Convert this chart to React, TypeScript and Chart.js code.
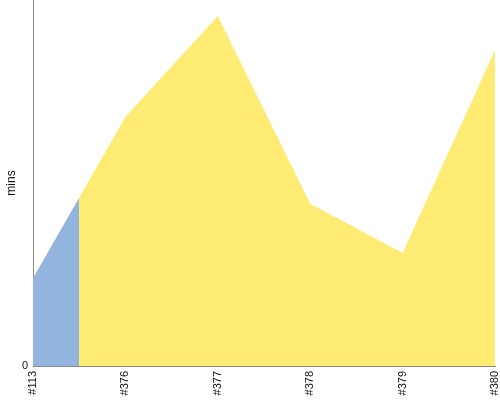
import React, { useEffect, useRef } from "react";
import { Chart, registerables } from "chart.js";

Chart.register(...registerables);

const builds = ["#113", "#376", "#377", "#378", "#379", "#380"];
const durations = [24.0, 68.0, 95.6, 44.3, 30.9, 86.3];
const yMax = 100;
const blueColor = "#93b4dc";
const yellowColor = "#fdeb74";

export default function App() {
  const ref = useRef<HTMLCanvasElement | null>(null);
  useEffect(() => {
    document.body.style.margin = "0";
    const canvas = ref.current;
    if (!canvas) return;
    const chart = new Chart(canvas, {
      type: "line",
      data: {
        labels: builds,
        datasets: [
          {
            label: "duration",
            data: durations,
            fill: "origin",
            borderWidth: 0,
            pointRadius: 0,
            tension: 0,
            backgroundColor: (ctx: any) => {
              const c = ctx.chart;
              const area = c.chartArea;
              if (!area) return yellowColor;
              const xs = c.scales.x;
              const x0 = xs.getPixelForValue(0);
              const x1 = xs.getPixelForValue(1);
              const mid = (x0 + x1) / 2;
              const f = Math.min(1, Math.max(0, (mid - area.left) / (area.right - area.left)));
              const g = c.ctx.createLinearGradient(area.left, 0, area.right, 0);
              g.addColorStop(0, blueColor);
              g.addColorStop(f, blueColor);
              g.addColorStop(f, yellowColor);
              g.addColorStop(1, yellowColor);
              return g;
            },
          },
        ],
      },
      options: {
        animation: false,
        responsive: true,
        maintainAspectRatio: false,
        plugins: { legend: { display: false }, tooltip: { enabled: false } },
        layout: { padding: 0 },
        scales: {
          x: {
            offset: false,
            grid: { display: false, drawTicks: false },
            border: { display: true, color: "#888" },
            ticks: { minRotation: 90, maxRotation: 90, color: "#111", font: { size: 11 }, autoSkip: false, padding: 5 },
            afterFit: (s: any) => {
              s.height = 34;
              s.paddingLeft = 0;
              s.paddingRight = 5;
            },
          },
          y: {
            min: 0,
            max: yMax,
            grid: { display: false, drawTicks: false },
            border: { display: true, color: "#888" },
            title: { display: true, text: "mins", color: "#111", font: { size: 12 }, padding: { top: 4, bottom: 0 } },
            ticks: {
              color: "#111",
              font: { size: 11 },
              padding: 5,
              callback: (v: any) => (v === 0 ? "0" : ""),
            },
            afterFit: (s: any) => {
              s.width = 33;
              s.paddingTop = 0;
              s.paddingBottom = 0;
            },
          },
        },
      },
    });
    return () => chart.destroy();
  }, []);
  return (
    <div style={{ width: 500, height: 400, position: "relative" }}>
      <canvas ref={ref} />
    </div>
  );
}
